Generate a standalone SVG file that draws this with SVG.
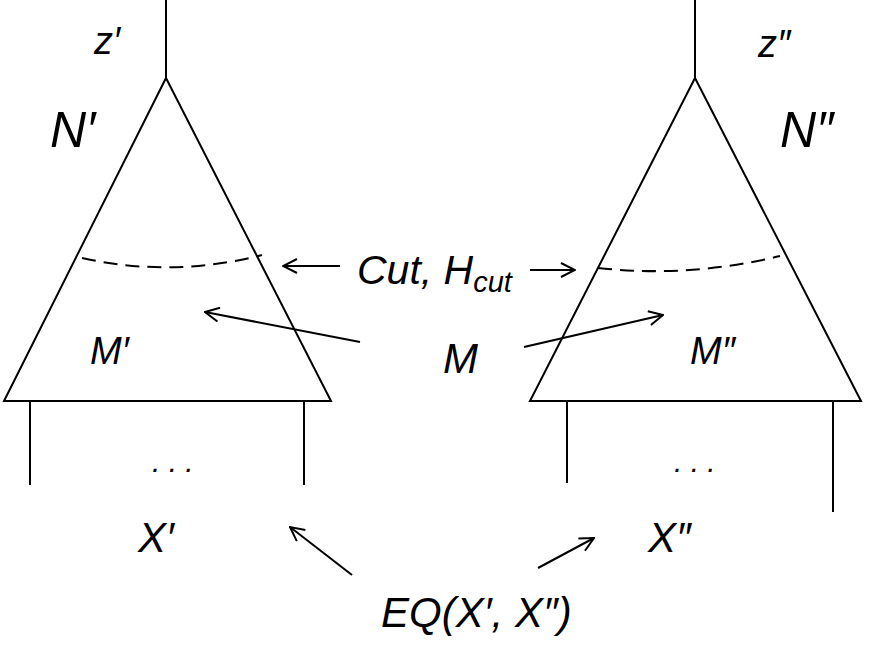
<svg xmlns="http://www.w3.org/2000/svg" width="871" height="647" viewBox="0 0 871 647">
<style>
.l{stroke:#000;stroke-width:2;fill:none}
.d{stroke:#000;stroke-width:2;fill:none;stroke-dasharray:14 8}
.a{stroke:#000;stroke-width:2;fill:none;marker-end:url(#h)}
text{font-family:"Liberation Sans",Arial,sans-serif;font-style:italic;fill:#000}
</style>
<defs><marker id="h" viewBox="0 0 16 16" refX="15" refY="8" markerWidth="16" markerHeight="16" markerUnits="userSpaceOnUse" orient="auto"><path d="M1 1L15 8L1 15" fill="none" stroke="#000" stroke-width="2"/></marker></defs>
<rect width="871" height="647" fill="#fff"/>
<g id="left">
<path class="l" d="M166 0V78M166 78L4 401H331Z"/>
<path class="l" d="M30 401V485M304 401V485"/>
<path class="d" d="M82 258Q172 278 262 255"/>
<text x="94" y="54" font-size="38">z′</text>
<text x="50" y="147" font-size="50">N′</text>
<text x="90" y="364" font-size="38">M′</text>
<text x="152" y="472" font-size="30" font-style="normal">. . .</text>
<text x="138" y="552" font-size="42">X′</text>
</g>
<g id="right">
<path class="l" d="M695 0V78M695 78L530 401H861Z"/>
<path class="l" d="M567 401V483M833 401V512"/>
<path class="d" d="M598 268Q690 278 780 256"/>
<text x="758" y="57" font-size="38">z″</text>
<text x="780" y="147" font-size="50">N″</text>
<text x="690" y="364" font-size="38">M″</text>
<text x="674" y="472" font-size="30" font-style="normal">. . .</text>
<text x="648" y="552" font-size="42">X″</text>
</g>
<g id="labels">
<text x="357" y="284" font-size="41">Cut, H<tspan font-size="29" dy="8">cut</tspan></text>
<text x="443" y="373" font-size="42">M</text>
<text x="381" y="627" font-size="42">EQ(X′, X″)</text>
</g>
<g id="connectors">
<path class="a" d="M340 266H283"/>
<path class="a" d="M530 270H575"/>
<path class="a" d="M360 342L205 312"/>
<path class="a" d="M524 347L663 315"/>
<path class="a" d="M352 575L290 527"/>
<path class="a" d="M538 568L594 538"/>
</g>
</svg>
